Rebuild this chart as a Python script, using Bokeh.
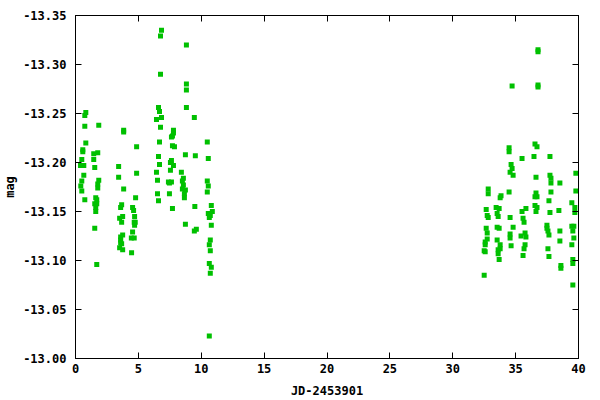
from bokeh.plotting import figure
from bokeh.models import Range1d, FixedTicker, PrintfTickFormatter, LinearAxis, CustomJSTickFormatter
from bokeh.embed import file_html
from bokeh.resources import INLINE

# Data (JD-2453901, magnitude)
night1 = [(0.82, -13.251), (0.74, -13.248), (0.74, -13.237), (1.85, -13.238), (0.82, -13.220),
          (0.58, -13.213), (0.58, -13.211), (1.45, -13.209), (1.77, -13.210), (0.50, -13.203),
          (1.45, -13.203), (0.40, -13.197), (0.66, -13.197), (1.53, -13.195), (0.66, -13.187),
          (1.85, -13.182), (0.50, -13.181), (1.77, -13.178), (1.77, -13.174), (0.42, -13.176),
          (0.50, -13.171), (1.61, -13.164), (0.74, -13.162), (1.69, -13.162), (1.53, -13.158),
          (1.69, -13.158), (1.61, -13.154), (1.61, -13.150), (1.53, -13.133), (1.69, -13.096)]

night2 = [(3.83, -13.233), (3.83, -13.231), (4.86, -13.216), (3.43, -13.196), (4.86, -13.189),
          (3.43, -13.185), (3.83, -13.173), (4.78, -13.164), (3.67, -13.157), (3.59, -13.154),
          (4.54, -13.154), (4.62, -13.151), (3.75, -13.145), (4.70, -13.145), (3.51, -13.143),
          (3.67, -13.139), (4.67, -13.139), (4.75, -13.139), (4.70, -13.136), (4.54, -13.129),
          (3.75, -13.126), (3.59, -13.124), (3.59, -13.121), (3.59, -13.118), (4.44, -13.123),
          (4.67, -13.123), (3.67, -13.117), (3.51, -13.113), (3.75, -13.111), (4.46, -13.108)]

night3 = [(6.84, -13.335), (6.76, -13.329), (8.82, -13.320), (6.76, -13.290), (8.82, -13.280),
          (8.82, -13.274), (6.60, -13.256), (6.68, -13.252), (6.44, -13.244), (6.84, -13.246),
          (8.82, -13.256), (9.45, -13.246), (6.76, -13.236), (7.79, -13.233), (7.79, -13.230),
          (7.71, -13.227), (7.63, -13.226), (6.68, -13.221), (7.71, -13.217), (7.87, -13.216),
          (6.60, -13.206), (8.74, -13.208), (9.53, -13.207), (6.68, -13.198), (7.63, -13.202),
          (7.55, -13.200), (7.79, -13.197), (6.44, -13.190), (7.55, -13.192), (8.42, -13.190),
          (8.58, -13.184), (6.52, -13.182), (7.39, -13.180), (7.47, -13.179), (7.63, -13.180),
          (8.50, -13.181), (8.58, -13.177), (8.50, -13.173), (8.74, -13.172), (8.66, -13.168),
          (8.66, -13.164), (6.52, -13.168), (7.47, -13.168), (6.60, -13.161), (7.71, -13.153),
          (9.49, -13.155), (8.74, -13.137), (9.45, -13.130), (9.61, -13.132)]

night4 = [(10.48, -13.221), (10.56, -13.204), (10.48, -13.181), (10.56, -13.176), (10.48, -13.170),
          (10.80, -13.156), (10.56, -13.148), (10.72, -13.146), (10.88, -13.150), (10.64, -13.144),
          (10.80, -13.136), (10.72, -13.121), (10.64, -13.116), (10.72, -13.110), (10.64, -13.097),
          (10.80, -13.093), (10.72, -13.087), (10.64, -13.023)]

night5 = [(34.72, -13.278), (34.48, -13.215), (34.48, -13.211), (35.51, -13.204), (34.64, -13.198),
          (34.72, -13.194), (34.56, -13.190), (34.80, -13.187), (32.82, -13.173), (32.82, -13.168),
          (33.84, -13.166), (33.77, -13.164), (34.48, -13.170), (32.66, -13.152), (33.45, -13.154),
          (33.69, -13.153), (35.51, -13.150), (35.82, -13.153), (32.74, -13.146), (32.82, -13.144),
          (33.53, -13.148), (33.61, -13.145), (34.56, -13.144), (35.59, -13.143), (35.67, -13.139),
          (32.66, -13.133), (32.74, -13.128), (33.53, -13.134), (33.69, -13.133), (34.80, -13.134),
          (34.56, -13.127), (34.56, -13.123), (35.43, -13.125), (35.75, -13.128), (35.82, -13.124),
          (32.74, -13.122), (32.58, -13.119), (32.58, -13.116), (33.53, -13.121), (33.77, -13.116),
          (33.77, -13.112), (34.64, -13.115), (35.75, -13.116), (35.67, -13.112), (32.50, -13.110),
          (32.58, -13.109), (33.61, -13.111), (33.61, -13.107), (35.59, -13.105), (33.69, -13.101),
          (32.50, -13.085)]

night6 = [(36.78, -13.315), (36.78, -13.313), (36.78, -13.279), (36.78, -13.277), (36.54, -13.219),
          (36.70, -13.216), (36.46, -13.206), (37.73, -13.206), (39.79, -13.189), (36.62, -13.185),
          (37.73, -13.187), (37.81, -13.184), (37.81, -13.179), (38.52, -13.179), (39.79, -13.171),
          (36.62, -13.169), (36.54, -13.165), (36.70, -13.165), (37.81, -13.170), (37.65, -13.161),
          (39.47, -13.159), (36.54, -13.156), (36.70, -13.154), (39.71, -13.154), (39.71, -13.149),
          (36.62, -13.150), (37.73, -13.149), (38.44, -13.151), (37.49, -13.136), (37.49, -13.133),
          (37.57, -13.130), (37.65, -13.126), (38.52, -13.130), (39.47, -13.135), (39.63, -13.135),
          (39.55, -13.130), (39.63, -13.123), (38.52, -13.120), (39.47, -13.116), (37.57, -13.112),
          (37.65, -13.104), (38.60, -13.095), (38.60, -13.092), (39.55, -13.101), (39.55, -13.097),
          (39.55, -13.075)]

x_ticks = [0, 5, 10, 15, 20, 25, 30, 35, 40]
y_ticks = [-13.35, -13.30, -13.25, -13.20, -13.15, -13.10, -13.05, -13.00]

points = night1 + night2 + night3 + night4 + night5 + night6
jd = [pt[0] for pt in points]
mag = [pt[1] for pt in points]

FONT = "DejaVu Sans Mono"
FS = "12px"

p = figure(width=600, height=400, output_backend="svg", toolbar_location=None,
           x_range=Range1d(0, 40), y_range=Range1d(-13.00, -13.35),
           min_border_left=73, min_border_right=22, min_border_top=15, min_border_bottom=41,
           background_fill_color="white", border_fill_color="white")
p.grid.visible = False
p.outline_line_color = "black"
p.outline_line_width = 1

p.scatter(jd, mag, marker="square", size=5, fill_color="#00c000", line_color=None)

def style(ax, ticks, fmt, show_labels=True):
    ax.ticker = FixedTicker(ticks=ticks)
    ax.major_tick_in = 6
    ax.major_tick_out = 0
    ax.minor_tick_line_color = None
    ax.axis_line_color = "black"
    ax.major_tick_line_color = "black"
    ax.major_label_text_font = FONT
    ax.major_label_text_font_style = "bold"
    ax.major_label_text_color = "black"
    ax.axis_label_text_font = FONT
    ax.axis_label_text_font_style = "bold"
    ax.axis_label_text_font_size = FS
    ax.axis_label_text_color = "black"
    if show_labels:
        ax.formatter = PrintfTickFormatter(format=fmt)
        ax.major_label_text_font_size = FS
    else:
        ax.formatter = CustomJSTickFormatter(code="return '';")
        ax.major_label_text_font_size = "1px"
        ax.major_label_standoff = 0

xa = p.xaxis[0]
style(xa, x_ticks, "%d")
xa.axis_label = "JD-2453901"
xa.major_label_standoff = 5
xa.axis_label_standoff = 8

ya = p.yaxis[0]
style(ya, y_ticks, "%.2f")
ya.axis_label = "mag"
ya.major_label_standoff = 9
ya.axis_label_standoff = 3

top = LinearAxis()
style(top, x_ticks, "%d", show_labels=False)
p.add_layout(top, "above")
right = LinearAxis()
style(right, y_ticks, "%.2f", show_labels=False)
p.add_layout(right, "right")

open("out.html", "w").write(file_html(p, INLINE))
